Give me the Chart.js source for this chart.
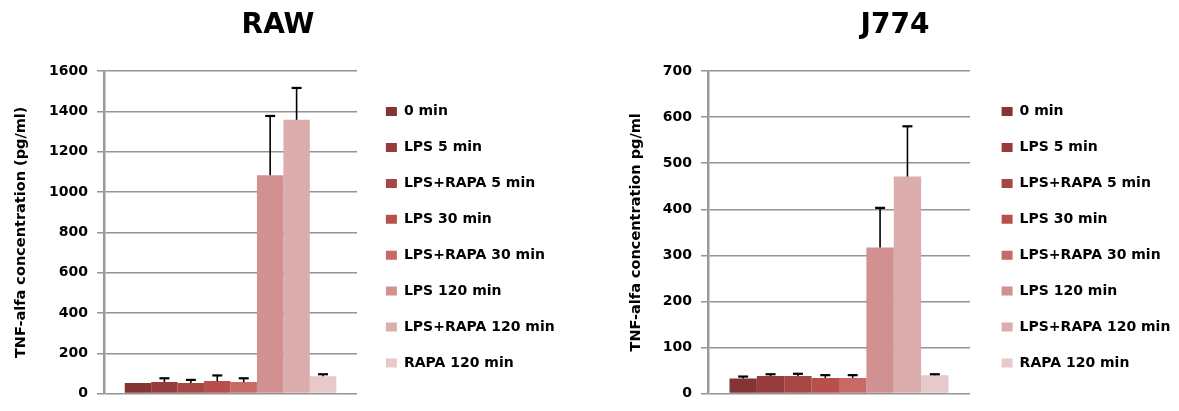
<!DOCTYPE html>
<html>
<head>
<meta charset="utf-8">
<script src="https://cdn.jsdelivr.net/npm/chart.js@4/dist/chart.umd.min.js"></script>
<style>
  html, body { margin: 0; padding: 0; background: #fff; }
  body { width: 1179px; height: 411px; position: relative; overflow: hidden; }
  canvas { position: absolute; top: 0; }
  #rawChart { left: 0; }
  #j774Chart { left: 600px; }
</style>
</head>
<body>
<canvas id="rawChart" width="585" height="411"></canvas>
<canvas id="j774Chart" width="579" height="411"></canvas>
<script>
// Treatment groups (one bar each, shown in the legend)
const treatments = ['0 min', 'LPS 5 min', 'LPS+RAPA 5 min', 'LPS 30 min',
  'LPS+RAPA 30 min', 'LPS 120 min', 'LPS+RAPA 120 min', 'RAPA 120 min'];

const barColors = ['#843434', '#963d3b', '#a74745', '#b84f4b',
  '#c76a67', '#d19190', '#dcadad', '#e8c8c8'];

// RAW cells: TNF-alfa (pg/ml), mean and upper error
const rawValues = [53, 58, 53, 62, 57, 1083, 1358, 86];
const rawErrors = [0, 18, 15, 28, 19, 294, 158, 10];
const rawTicks = [0, 200, 400, 600, 800, 1000, 1200, 1400, 1600];

// J774 cells: TNF-alfa (pg/ml), mean and upper error
const j774Values = [32.5, 38, 38, 34, 34, 317, 471, 40];
const j774Errors = [4.5, 4, 5, 6, 6, 86, 109, 2];
const j774Ticks = [0, 100, 200, 300, 400, 500, 600, 700];

const FONT = '"DejaVu Sans", sans-serif';

// Upward error bars with a cap, drawn from each bar's own value
const errorBars = {
  id: 'errorBars',
  afterDatasetsDraw(chart, args, opts) {
    const ctx = chart.ctx;
    const y = chart.scales.y;
    const errs = opts.values || [];
    chart.data.datasets.forEach((ds, i) => {
      const err = errs[i];
      if (!err) return;
      chart.getDatasetMeta(i).data.forEach((bar, j) => {
        const top = y.getPixelForValue(ds.data[j] + err);
        ctx.save();
        ctx.strokeStyle = '#000';
        ctx.lineWidth = 1.6;
        ctx.beginPath();
        ctx.moveTo(bar.x, bar.y);
        ctx.lineTo(bar.x, top);
        ctx.stroke();
        ctx.lineWidth = 2.2;
        ctx.beginPath();
        ctx.moveTo(bar.x - 5, top);
        ctx.lineTo(bar.x + 5, top);
        ctx.stroke();
        ctx.restore();
      });
    });
  }
};

// Places the legend column a little right of the plot and lower down
const legendPlace = {
  id: 'legendPlace',
  afterLayout(chart, args, opts) {
    const lg = chart.legend;
    if (!lg) return;
    lg.left = chart.chartArea.right + (opts.gap || 0);
    lg.right = chart.width;
    lg.top += opts.dy || 0;
    lg.bottom += opts.dy || 0;
  }
};

function makeChart(id, cfg) {
  const datasets = treatments.map((name, i) => ({
    label: name,
    data: [cfg.values[i]],
    backgroundColor: barColors[i],
    borderWidth: 0,
    categoryPercentage: 0.836,
    barPercentage: 1
  }));
  return new Chart(document.getElementById(id), {
    type: 'bar',
    data: { labels: [''], datasets },
    plugins: [errorBars, legendPlace],
    options: {
      responsive: false,
      animation: false,
      devicePixelRatio: 1,
      layout: { padding: cfg.padding },
      plugins: {
        tooltip: { enabled: false },
        title: {
          display: true,
          text: cfg.title,
          color: '#000',
          font: { family: FONT, size: 28, weight: 'bold', lineHeight: 1.2 },
          padding: { top: 9, bottom: 28.4 }
        },
        legend: {
          position: 'right',
          align: 'start',
          maxWidth: 199,
          labels: {
            color: '#000',
            font: { family: FONT, size: 14, weight: 'bold' },
            boxWidth: 11,
            boxHeight: 9,
            padding: 21.9
          }
        },
        errorBars: { values: cfg.errors },
        legendPlace: { gap: cfg.legendGap, dy: 82.7 }
      },
      scales: {
        x: { display: false },
        y: {
          min: cfg.ticks[0],
          max: cfg.ticks[cfg.ticks.length - 1],
          afterBuildTicks: s => { s.ticks = cfg.ticks.map(v => ({ value: v })); },
          afterFit: s => { s.width = cfg.axisWidth; },
          grid: { color: '#939393', lineWidth: 1.5, tickLength: 7, drawTicks: true },
          border: { display: true, color: '#999', width: 2.5 },
          ticks: {
            color: '#000',
            padding: 9,
            font: { family: FONT, size: 14, weight: 'bold' },
            callback: v => String(v)
          },
          title: {
            display: true,
            text: cfg.yTitle,
            color: '#000',
            font: { family: FONT, size: 14.5, weight: 'bold', lineHeight: 1.2 },
            padding: { top: cfg.yTitlePad, bottom: 0 }
          }
        }
      }
    }
  });
}

makeChart('rawChart', {
  title: 'RAW',
  values: rawValues,
  errors: rawErrors,
  ticks: rawTicks,
  yTitle: 'TNF-alfa concentration (pg/ml)',
  padding: { left: 0, right: 29, top: 0, bottom: 10 },
  axisWidth: 104,
  yTitlePad: 13,
  legendGap: 7
});

makeChart('j774Chart', {
  title: 'J774',
  values: j774Values,
  errors: j774Errors,
  ticks: j774Ticks,
  yTitle: 'TNF-alfa concentration pg/ml',
  padding: { left: 21, right: 10, top: 0, bottom: 10 },
  axisWidth: 87,
  yTitlePad: 7,
  legendGap: 9.7
});
</script>
</body>
</html>
